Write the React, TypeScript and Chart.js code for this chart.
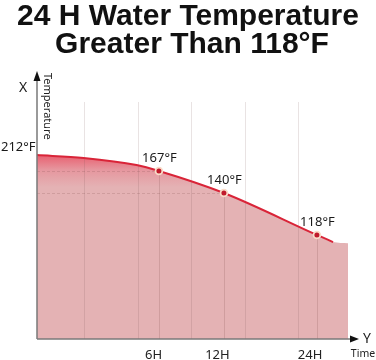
import { useEffect, useRef } from 'react';
import { Chart, registerables } from 'chart.js';
Chart.register(...registerables);

// ---- data (x in % of the time axis, level in % of the temperature axis) ----
const titleLines = ['24 H Water Temperature', 'Greater Than 118°F'];
const curveX = [0, 15, 32, 39.2, 60.1, 90, 95.2];
const curveLevel = [77.6, 76.4, 73.4, 70.9, 61.6, 43.9, 40.9];
const fillEndX = 100;
const fillEndLevel = 40.4;
const markIndex = [3, 4, 5];
const markLabels = ['167°F', '140°F', '118°F'];
const startLabel = '212°F';
const gridX = [15.1, 32.5, 49.5, 66.9, 83.9];
const guideMarks = [3, 4];
const timeTicks = [37.5, 58.0, 87.8];
const timeLabels = ['6H', '12H', '24H'];
const yAxisName = 'Temperature';
const xAxisName = 'Time';

const FONT = '"Noto Sans", "DejaVu Sans", sans-serif';

const decor = {
  id: 'decor',
  afterDatasetDraw(chart: any, args: any) {
    if (args.index !== 0) return;
    const { ctx, chartArea: a, scales } = chart;
    const xs = scales.x, ys = scales.y;
    ctx.save();
    // vertical grid
    ctx.strokeStyle = 'rgba(120,80,80,0.16)';
    ctx.lineWidth = 1;
    gridX.forEach((v) => {
      const px = Math.round(xs.getPixelForValue(v)) + 0.5;
      ctx.beginPath();
      ctx.moveTo(px, a.top);
      ctx.lineTo(px, a.bottom);
      ctx.stroke();
    });
    // horizontal guides (inside the filled area only)
    ctx.setLineDash([3, 2]);
    ctx.strokeStyle = 'rgba(130,80,80,0.22)';
    guideMarks.forEach((i) => {
      const py = Math.round(ys.getPixelForValue(curveLevel[i])) + 0.5;
      ctx.beginPath();
      ctx.moveTo(a.left, py);
      ctx.lineTo(xs.getPixelForValue(curveX[i]), py);
      ctx.stroke();
    });
    ctx.setLineDash([]);
    // drops from marked points
    ctx.strokeStyle = 'rgba(130,80,80,0.22)';
    markIndex.forEach((i) => {
      const px = Math.round(xs.getPixelForValue(curveX[i])) + 0.5;
      const py = ys.getPixelForValue(curveLevel[i]);
      ctx.beginPath();
      ctx.moveTo(px, py);
      ctx.lineTo(px, a.bottom);
      ctx.stroke();
    });
    ctx.restore();
  },
  afterDraw(chart: any) {
    const { ctx, chartArea: a, scales } = chart;
    const xs = scales.x, ys = scales.y;
    const W = chart.width;
    ctx.save();
    // title
    ctx.fillStyle = '#111';
    ctx.textAlign = 'center';
    ctx.textBaseline = 'alphabetic';
    ctx.font = 'bold 30px "Liberation Sans", Arial, sans-serif';
    ctx.fillText(titleLines[0], W / 2, 25);
    ctx.fillText(titleLines[1], W / 2 + 4, 53);
    // axes
    ctx.strokeStyle = '#7a7a7a';
    ctx.lineWidth = 1.5;
    ctx.beginPath();
    ctx.moveTo(a.left, a.bottom);
    ctx.lineTo(a.left, 79);
    ctx.moveTo(a.left, a.bottom);
    ctx.lineTo(a.right + 4, a.bottom);
    ctx.stroke();
    ctx.fillStyle = '#111';
    ctx.beginPath();
    ctx.moveTo(a.left, 71);
    ctx.lineTo(a.left - 3.5, 81);
    ctx.lineTo(a.left + 3.5, 81);
    ctx.closePath();
    ctx.fill();
    ctx.beginPath();
    ctx.moveTo(a.right + 11, a.bottom);
    ctx.lineTo(a.right + 2, a.bottom - 3.5);
    ctx.lineTo(a.right + 2, a.bottom + 3.5);
    ctx.closePath();
    ctx.fill();
    // axis letters
    ctx.fillStyle = '#222';
    ctx.textBaseline = 'middle';
    ctx.font = `14px ${FONT}`;
    ctx.textAlign = 'center';
    ctx.fillText('X', 23, 88);
    ctx.fillText('Y', a.right + 19, a.bottom);
    ctx.font = `10.5px ${FONT}`;
    ctx.fillText(xAxisName, a.right + 15, a.bottom + 15);
    ctx.font = `11px ${FONT}`;
    ctx.save();
    ctx.translate(a.left + 10, 73);
    ctx.rotate(Math.PI / 2);
    ctx.textAlign = 'left';
    ctx.fillText(yAxisName, 0, 0);
    ctx.restore();
    // time tick labels
    ctx.font = `13px ${FONT}`;
    ctx.fillStyle = '#222';
    timeLabels.forEach((t, i) => {
      ctx.fillText(t, xs.getPixelForValue(timeTicks[i]), a.bottom + 16);
    });
    // temperature labels
    ctx.fillStyle = '#1a1a1a';
    markIndex.forEach((idx, i) => {
      const px = xs.getPixelForValue(curveX[idx]);
      const py = ys.getPixelForValue(curveLevel[idx]);
      ctx.fillText(markLabels[i], px + 0.5, py - 13);
    });
    ctx.textAlign = 'left';
    ctx.fillText(startLabel, 1, ys.getPixelForValue(curveLevel[0]) - 8);
    ctx.restore();
  },
};

export default function App() {
  const ref = useRef<HTMLCanvasElement | null>(null);
  useEffect(() => {
    if (!ref.current) return;
    const fillData = curveX.map((x, i) => ({ x, y: curveLevel[i] }));
    fillData.push({ x: fillEndX, y: fillEndLevel });
    const lineData = curveX.map((x, i) => ({ x, y: curveLevel[i] }));
    const chart = new Chart(ref.current, {
      type: 'line',
      data: {
        datasets: [
          {
            data: fillData,
            order: 2,
            borderWidth: 0,
            borderColor: 'rgba(0,0,0,0)',
            pointRadius: 0,
            cubicInterpolationMode: 'monotone',
            fill: 'origin',
            backgroundColor: (c: any) => {
              const ch = c.chart;
              const { chartArea } = ch;
              if (!chartArea) return '#e4b2b4';
              const y0 = ch.scales.y.getPixelForValue(curveLevel[0]);
              const g = ch.ctx.createLinearGradient(0, y0, 0, y0 + 32);
              g.addColorStop(0, 'rgb(232,96,112)');
              g.addColorStop(0.45, 'rgb(230,150,158)');
              g.addColorStop(1, 'rgb(228,178,180)');
              return g;
            },
          },
          {
            data: lineData,
            order: 1,
            borderColor: '#d92438',
            borderWidth: 2,
            fill: false,
            cubicInterpolationMode: 'monotone',
            pointRadius: (c: any) => (markIndex.includes(c.dataIndex) ? 3.4 : 0),
            pointBackgroundColor: '#c01a2c',
            pointBorderColor: '#f9dcc8',
            pointBorderWidth: 1.8,
          },
        ],
      },
      options: {
        responsive: false,
        devicePixelRatio: 1,
        animation: false,
        layout: { padding: { left: 37, right: 28, top: 102, bottom: 21 } },
        plugins: { legend: { display: false }, tooltip: { enabled: false }, title: { display: false } },
        scales: {
          x: { type: 'linear', min: 0, max: 100, display: false },
          y: { type: 'linear', min: 0, max: 100, display: false },
        },
      },
      plugins: [decor],
    });
    return () => chart.destroy();
  }, []);
  return (
    <div style={{ position: 'fixed', left: 0, top: 0, width: 376, height: 360, background: '#fff' }}>
      <canvas ref={ref} width={376} height={360} style={{ display: 'block' }} />
    </div>
  );
}
